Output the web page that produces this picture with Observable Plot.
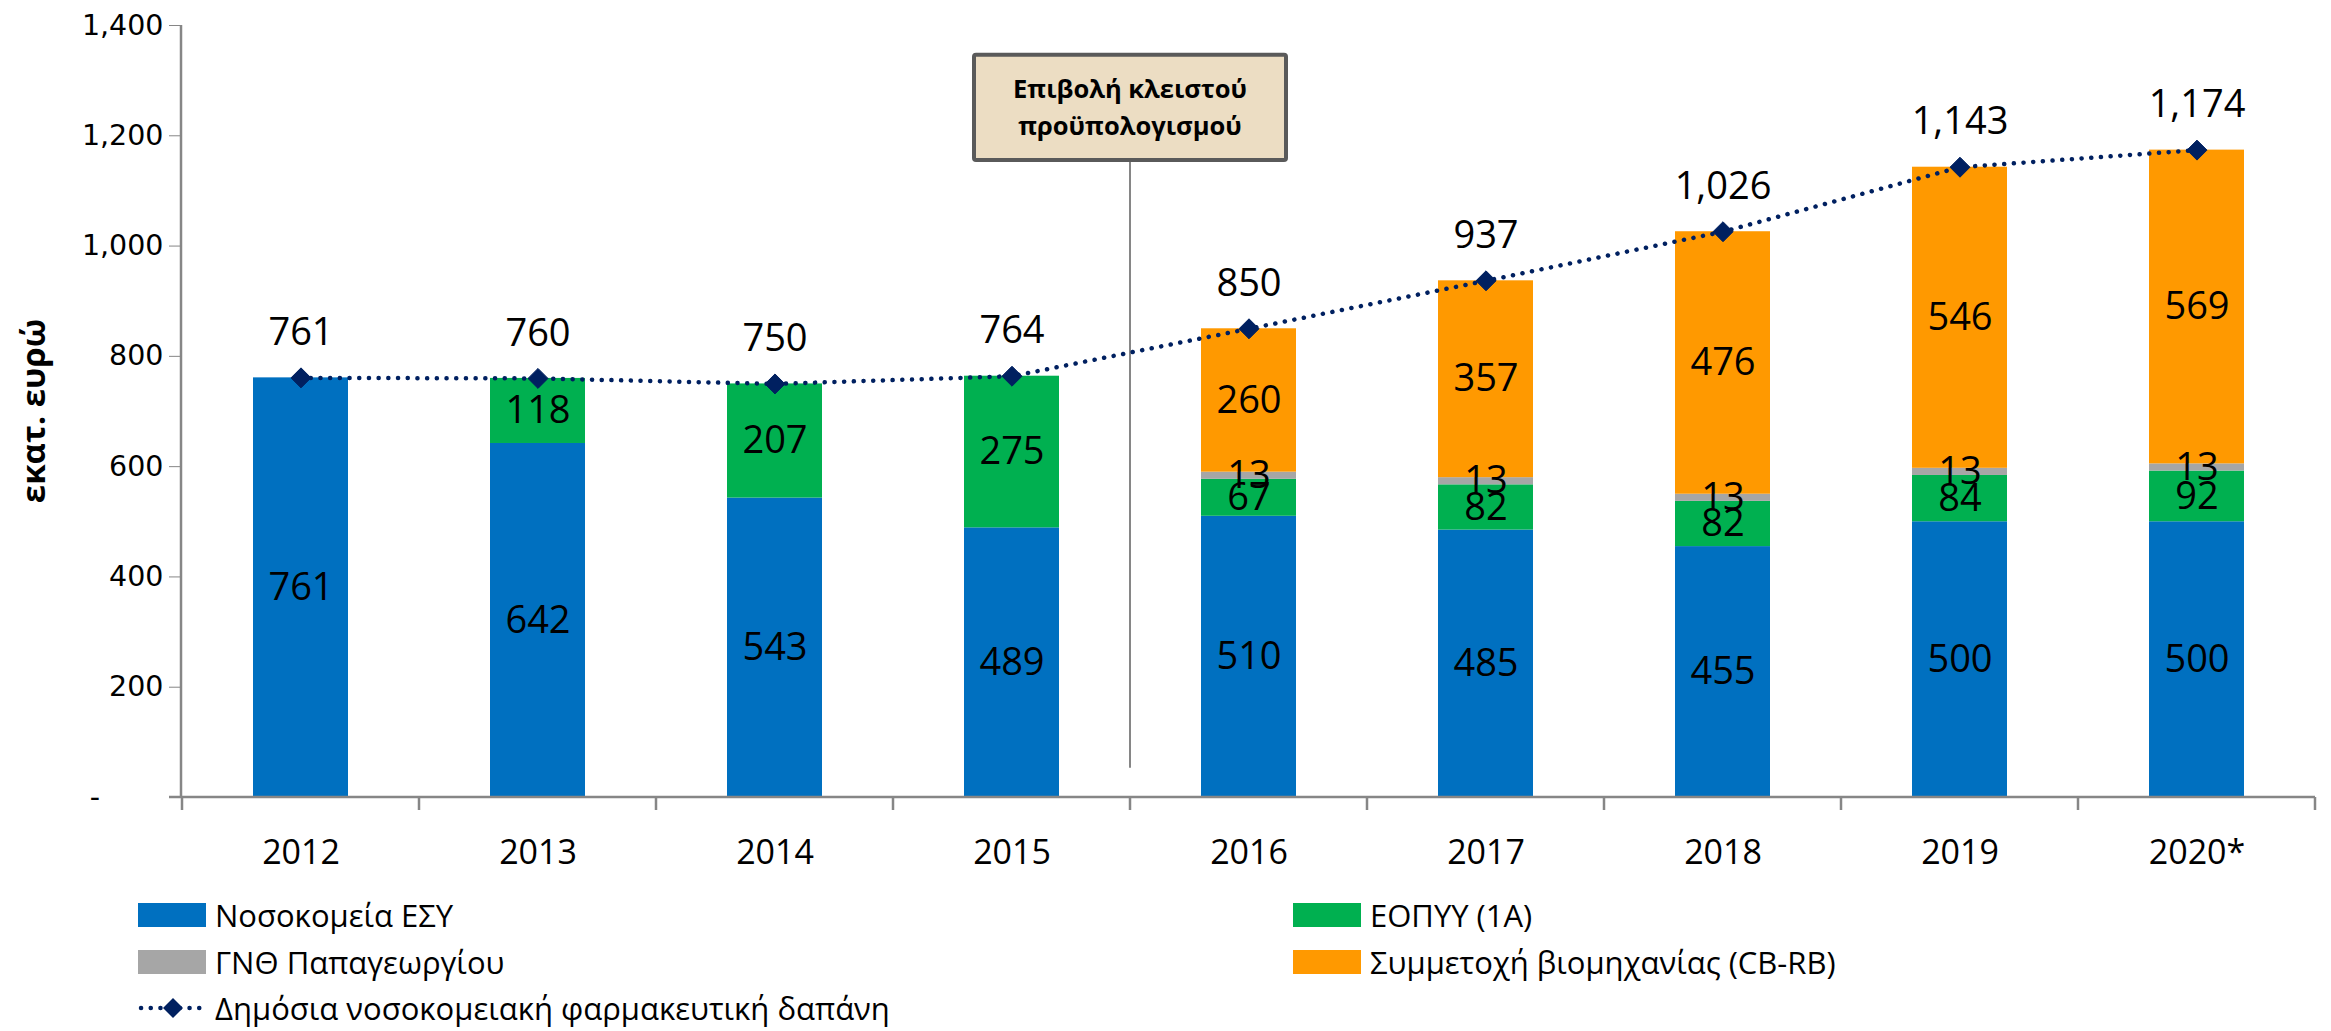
<!DOCTYPE html>
<html>
<head>
<meta charset="utf-8">
<script src="https://cdn.jsdelivr.net/npm/d3@7"></script>
<script src="https://cdn.jsdelivr.net/npm/@observablehq/plot@0.6"></script>
<style>
  body { margin: 0; background: #fff; }
  #wrap { position: relative; width: 2331px; height: 1031px; overflow: hidden; background: #fff; }
  #chart svg { display: block; }
  .legend-item { position: absolute; display: flex; align-items: center; height: 40px;
    font-family: "Open Sans", sans-serif; font-size: 31px; color: #000; white-space: nowrap; }
  .legend-item .sw { width: 68px; height: 24px; margin-right: 9px; flex: none; }
  .legend-item svg { margin-right: 9px; flex: none; }
</style>
</head>
<body>
<div id="wrap">
  <div id="chart"></div>
  <div id="legend"></div>
</div>
<script>
// Hospital pharmaceutical expenditure, million euro
const years = ["2012", "2013", "2014", "2015", "2016", "2017", "2018", "2019", "2020*"];
const seriesNames = ["Νοσοκομεία ΕΣΥ", "ΕΟΠΥΥ (1Α)", "ΓΝΘ Παπαγεωργίου", "Συμμετοχή βιομηχανίας (CB-RB)"];
const seriesColors = ["#0070C0", "#00B050", "#A6A6A6", "#FF9900"];
const esyHospitals = [761, 642, 543, 489, 510, 485, 455, 500, 500];
const eopyy1A = [0, 118, 207, 275, 67, 82, 82, 84, 92];
const papageorgiou = [0, 0, 0, 0, 13, 13, 13, 13, 13];
const industryShare = [0, 0, 0, 0, 260, 357, 476, 546, 569];
const totalSpending = [761, 760, 750, 764, 850, 937, 1026, 1143, 1174];
const lineName = "Δημόσια νοσοκομειακή φαρμακευτική δαπάνη";
const lineColor = "#002060";
const yTicks = [0, 200, 400, 600, 800, 1000, 1200, 1400];
const yTitle = "εκατ. ευρώ";
const noteLines = ["Επιβολή κλειστού", "προϋπολογισμού"];
const noteYear = "2016";          // the closed budget starts with this year
const noteBox = {top: 1346, bottom: 1155, line1: 1286, line2: 1219, ruleEnd: 53}; // in y units

// long table for the stacked bars
const stacked = [];
[esyHospitals, eopyy1A, papageorgiou, industryShare].forEach((vals, s) =>
  vals.forEach((v, i) => stacked.push({year: years[i], series: seriesNames[s], value: v}))
);
const totals = years.map((y, i) => ({year: y, total: totalSpending[i]}));

const W = 2331, H = 880;
const axisGray = "#868686";
const fmt = d3.format(",");
// accounting-style zero: a dash held away from the right edge by figure spaces
const yTickFormat = d => d === 0 ? "-\u2007\u2007\u2007\u2008" : fmt(d);

// divider between 2015 and 2016 with its note box, the axis lines and the y title
function frameAndNote(index, scales, values, dims) {
  const x = scales.x, y = scales.y;
  const step = x.step ? x.step() : (dims.width - dims.marginLeft - dims.marginRight) / years.length;
  const bw = x.bandwidth ? x.bandwidth() : step * 0.4;
  const edge = v => x(v) - (step - bw) / 2;
  const g = d3.create("svg:g");
  const y0 = y(0);
  const left = dims.marginLeft, right = dims.width - dims.marginRight;
  // y axis line
  g.append("line").attr("x1", left).attr("x2", left).attr("y1", y(1400)).attr("y2", y0)
    .attr("stroke", axisGray).attr("stroke-width", 2.5);
  // baseline
  g.append("line").attr("x1", left - 12).attr("x2", right).attr("y1", y0).attr("y2", y0)
    .attr("stroke", axisGray).attr("stroke-width", 2.5);
  // category boundary ticks
  const bounds = years.map(edge).concat([edge(years[years.length - 1]) + step]);
  for (const bx of bounds) {
    g.append("line").attr("x1", bx).attr("x2", bx).attr("y1", y0).attr("y2", y0 + 13)
      .attr("stroke", axisGray).attr("stroke-width", 2.5);
  }
  // y title
  const ty = (y(0) + y(1400)) / 2;
  g.append("text").attr("transform", `translate(32,${ty}) rotate(-90)`)
    .attr("text-anchor", "middle").attr("dominant-baseline", "central")
    .attr("font-family", "Open Sans, sans-serif").attr("font-weight", "bold").attr("font-size", 33)
    .attr("fill", "#000").text(yTitle);
  // divider
  const dx = edge(noteYear);
  g.append("line").attr("x1", dx).attr("x2", dx).attr("y1", y(noteBox.bottom)).attr("y2", y(noteBox.ruleEnd))
    .attr("stroke", axisGray).attr("stroke-width", 2);
  // note box
  const bwBox = 312;
  g.append("rect").attr("x", dx - bwBox / 2).attr("y", y(noteBox.top))
    .attr("width", bwBox).attr("height", y(noteBox.bottom) - y(noteBox.top))
    .attr("rx", 2).attr("fill", "#ECDDC3").attr("stroke", "#5A5A5A").attr("stroke-width", 4);
  [noteBox.line1, noteBox.line2].forEach((v, i) => {
    g.append("text").attr("x", dx).attr("y", y(v)).attr("text-anchor", "middle")
      .attr("dominant-baseline", "central")
      .attr("font-family", "Open Sans, sans-serif").attr("font-weight", "bold").attr("font-size", 25.5)
      .attr("fill", "#000").text(noteLines[i]);
  });
  return g.node();
}

const chart = Plot.plot({
  width: W,
  height: H,
  marginLeft: 181,
  marginRight: 16,
  marginTop: 25,
  marginBottom: 83,
  style: {fontFamily: "Open Sans, sans-serif", background: "#fff", color: "#000"},
  x: {type: "band", domain: years, paddingInner: 0.6, paddingOuter: 0.3, label: null},
  y: {domain: [0, 1400], label: null},
  color: {domain: seriesNames, range: seriesColors},
  marks: [
    Plot.barY(stacked, Plot.stackY({x: "year", y: "value", z: "series", fill: "series", order: seriesNames})),
    Plot.text(stacked.filter(d => d.value > 0), Plot.stackY({
      x: "year", y: "value", z: "series", order: seriesNames,
      text: d => fmt(d.value), fontSize: 38, fill: "#000"
    })),
    frameAndNote,
    Plot.axisY({ticks: yTicks, tickSize: 12, tickPadding: 6, stroke: axisGray, fill: "#000",
      tickFormat: yTickFormat, fontFamily: "DejaVu Sans", fontSize: 28.5, label: null}),
    Plot.axisX({tickSize: 0, tickPadding: 42, fontSize: 34, fill: "#000", label: null}),
    Plot.line(totals, {x: "year", y: "total", stroke: lineColor, strokeWidth: 4.5,
      strokeDasharray: "0.1 9.6", strokeLinecap: "round"}),
    Plot.dot(totals, {x: "year", y: "total", symbol: "diamond2", r: 9, fill: lineColor, stroke: lineColor, strokeWidth: 1}),
    Plot.text(totals, {x: "year", y: "total", text: d => fmt(d.total), dy: -45, fontSize: 38, fill: "#000"})
  ]
});
document.getElementById("chart").appendChild(chart);

// legend below the chart
const legend = document.getElementById("legend");
const rows = [
  {label: seriesNames[0], color: seriesColors[0], left: 138, top: 915},
  {label: seriesNames[1], color: seriesColors[1], left: 1293, top: 915},
  {label: seriesNames[2], color: seriesColors[2], left: 138, top: 962},
  {label: seriesNames[3], color: seriesColors[3], left: 1293, top: 962},
  {label: lineName, line: true, left: 138, top: 1008}
];
for (const r of rows) {
  const item = document.createElement("div");
  item.className = "legend-item";
  item.style.left = r.left + "px";
  item.style.top = (r.top - 20) + "px";
  if (r.line) {
    const s = d3.create("svg").attr("width", 68).attr("height", 24);
    s.append("line").attr("x1", 3).attr("x2", 65).attr("y1", 12).attr("y2", 12)
      .attr("stroke", lineColor).attr("stroke-width", 4.5).attr("stroke-dasharray", "0.1 9.6")
      .attr("stroke-linecap", "round");
    s.append("path").attr("d", d3.symbol(d3.symbolDiamond2, 254)()).attr("transform", "translate(35,12)")
      .attr("fill", lineColor);
    item.appendChild(s.node());
  } else {
    const sw = document.createElement("div");
    sw.className = "sw";
    sw.style.background = r.color;
    item.appendChild(sw);
  }
  const t = document.createElement("span");
  t.textContent = r.label;
  item.appendChild(t);
  legend.appendChild(item);
}
</script>
</body>
</html>
